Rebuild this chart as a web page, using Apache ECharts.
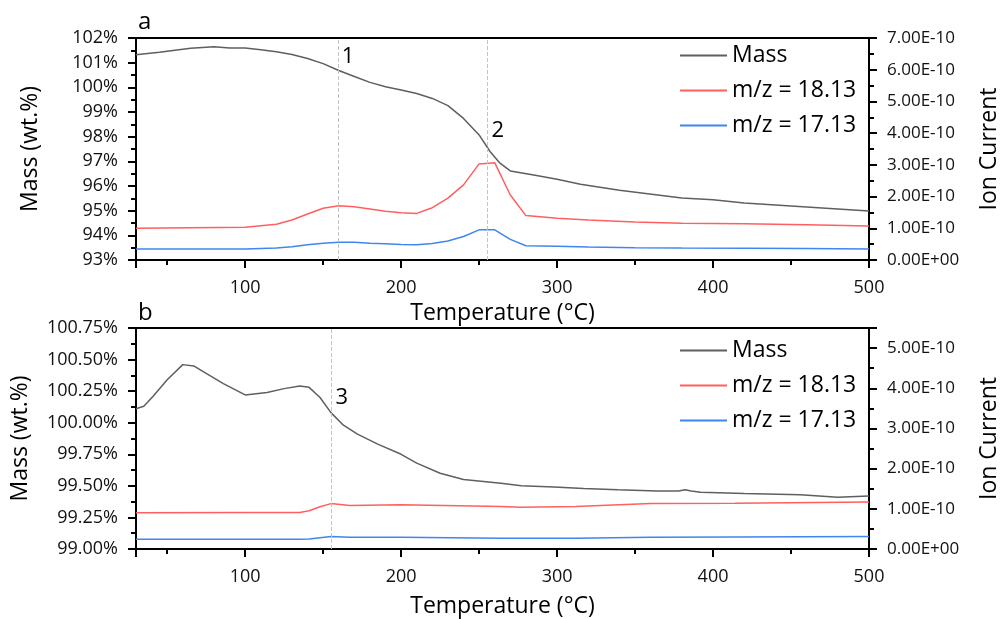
<!DOCTYPE html>
<html>
<head>
<meta charset="utf-8">
<script src="https://cdn.jsdelivr.net/npm/echarts@6/dist/echarts.min.js"></script>
<style>
  html, body { margin: 0; padding: 0; background: #fff; }
  #chart { width: 1001px; height: 619px; }
</style>
</head>
<body>
<div id="chart"></div>
<script>
// panel a
const tempMassA = [30, 45, 55, 65, 80, 90, 100, 110, 120, 130, 140, 150, 160, 170, 180, 190, 200, 210, 220, 230, 240, 250, 257, 263, 270, 285, 300, 315, 340, 380, 400, 420, 450, 480, 500]
const massA = [101.32, 101.42, 101.50, 101.58, 101.65, 101.59, 101.59, 101.52, 101.44, 101.33, 101.17, 100.96, 100.68, 100.44, 100.20, 100.02, 99.89, 99.75, 99.55, 99.26, 98.74, 98.07, 97.40, 96.95, 96.61, 96.45, 96.27, 96.07, 95.83, 95.51, 95.44, 95.31, 95.19, 95.07, 94.99]
const tempIonA = [30, 100, 120, 130, 140, 150, 160, 170, 180, 190, 200, 210, 220, 230, 240, 250, 260, 270, 280, 300, 320, 350, 380, 420, 460, 500]
// ion current in units of 1E-10
const ion18A = [1.00, 1.03, 1.13, 1.26, 1.45, 1.63, 1.71, 1.68, 1.61, 1.54, 1.49, 1.47, 1.65, 1.95, 2.37, 3.03, 3.07, 2.05, 1.40, 1.32, 1.26, 1.20, 1.16, 1.14, 1.11, 1.07]
const ion17A = [0.35, 0.35, 0.38, 0.42, 0.48, 0.53, 0.56, 0.56, 0.53, 0.51, 0.49, 0.48, 0.52, 0.60, 0.74, 0.95, 0.95, 0.65, 0.45, 0.43, 0.41, 0.39, 0.38, 0.37, 0.36, 0.35]
const eventTempsA = [160, 255]
const eventLabelsA = [['1', 166, 101.24], ['2', 262, 98.24]]

// panel b
const tempMassB = [30, 35, 41, 50, 60, 67, 75, 86, 100, 114, 125, 135, 141, 148, 155, 163, 172, 185, 200, 210, 225, 240, 264, 277, 298, 317, 339, 364, 378, 382, 386, 392, 420, 456, 480, 500]
const massB = [100.11, 100.13, 100.21, 100.34, 100.46, 100.45, 100.39, 100.31, 100.22, 100.24, 100.27, 100.29, 100.28, 100.20, 100.08, 99.98, 99.91, 99.83, 99.75, 99.68, 99.60, 99.55, 99.52, 99.50, 99.49, 99.48, 99.47, 99.46, 99.46, 99.47, 99.46, 99.45, 99.44, 99.43, 99.41, 99.42]
const tempIonB = [30, 100, 135, 141, 148, 155, 167, 200, 264, 277, 312, 360, 414, 500]
const ion18B = [0.90, 0.91, 0.91, 0.95, 1.05, 1.13, 1.08, 1.10, 1.06, 1.04, 1.06, 1.13, 1.14, 1.17]
const ion17B = [0.24, 0.24, 0.24, 0.25, 0.28, 0.31, 0.29, 0.29, 0.27, 0.27, 0.27, 0.29, 0.30, 0.31]
const eventTempsB = [155]
const eventLabelsB = [['3', 162, 100.20]]

const seriesNames = ['Mass', 'm/z = 18.13', 'm/z = 17.13']
const colors = ['#5f5f5f', '#ff5f5f', '#3f86ee']

const FONT = 'Open Sans'
const black = '#000'

function pairs(xs, ys) {
  return xs.map((x, i) => [x, ys[i]])
}

function ionLabel(v) {
  if (Math.abs(v) < 1e-9) return '0.00E+00'
  return v.toFixed(2) + 'E-10'
}

function xAxisFor(grid, gap) {
  return {
    gridIndex: grid,
    type: 'value',
    min: 30,
    max: 500,
    name: 'Temperature (°C)',
    nameLocation: 'middle',
    nameGap: gap,
    nameTextStyle: { fontFamily: FONT, fontSize: 23, color: black },
    axisLine: { lineStyle: { color: black, width: 2 } },
    axisTick: { length: 8, lineStyle: { color: black, width: 2 } },
    minorTick: { show: true, splitNumber: 2, length: 5, lineStyle: { color: black, width: 2 } },
    axisLabel: { showMinLabel: false, margin: 19, fontFamily: FONT, fontSize: 18, color: '#111' },
    splitLine: { show: false }
  }
}

function yAxisFor(grid, pos, min, max, interval, name, gap, fmt) {
  return {
    gridIndex: grid,
    type: 'value',
    position: pos,
    min: min,
    max: max,
    interval: interval,
    name: name,
    nameLocation: 'middle',
    nameGap: gap,
    nameTextStyle: { fontFamily: FONT, fontSize: 23, color: black },
    axisLine: { show: true, lineStyle: { color: black, width: 2 } },
    axisTick: { show: true, length: 8, lineStyle: { color: black, width: 2 } },
    minorTick: { show: true, splitNumber: 2, length: 5, lineStyle: { color: black, width: 2 } },
    axisLabel: { showMaxLabel: pos === 'left' || max % interval < 1e-9, margin: 18, fontFamily: FONT, fontSize: pos === 'left' ? 18 : 17, color: '#111', formatter: fmt },
    splitLine: { show: false }
  }
}

function lineSeries(name, color, xIdx, yIdx, data, extra) {
  return Object.assign({
    name: name,
    type: 'line',
    xAxisIndex: xIdx,
    yAxisIndex: yIdx,
    symbol: 'none',
    smooth: false,
    lineStyle: { color: color, width: 1.5 },
    itemStyle: { color: color },
    data: data,
    z: 3
  }, extra || {})
}

function eventMarks(temps, labels) {
  return {
    markLine: {
      silent: true,
      symbol: ['none', 'none'],
      label: { show: false },
      lineStyle: { type: 'dashed', color: '#c4c4c4', width: 1 },
      data: temps.map(t => ({ xAxis: t }))
    },
    markPoint: {
      silent: true,
      symbol: 'circle',
      symbolSize: 1,
      itemStyle: { color: 'rgba(0,0,0,0)' },
      label: { show: true, position: 'inside', fontFamily: FONT, fontSize: 22, color: black, formatter: p => p.name },
      data: labels.map(l => ({ name: l[0], coord: [l[1], l[2]] }))
    }
  }
}

function legendAt(top) {
  return {
    orient: 'vertical',
    left: 680,
    top: top,
    padding: 0,
    icon: 'rect',
    itemWidth: 47,
    itemHeight: 2,
    itemGap: 10,
    textStyle: { fontFamily: FONT, fontSize: 23, lineHeight: 25, color: black },
    data: seriesNames
  }
}

const chart = echarts.init(document.getElementById('chart'), null, { renderer: 'canvas' })

chart.setOption({
  animation: false,
  backgroundColor: '#fff',
  title: [
    { text: 'a', left: 138, top: 10, padding: 0, textStyle: { fontFamily: FONT, fontSize: 24, fontWeight: 'normal', color: black } },
    { text: 'b', left: 138, top: 301, padding: 0, textStyle: { fontFamily: FONT, fontSize: 24, fontWeight: 'normal', color: black } }
  ],
  legend: [legendAt(43), legendAt(338)],
  grid: [
    { left: 136, top: 38, width: 733, height: 222, show: true, borderColor: black, borderWidth: 2, outerBoundsMode: 'none', containLabel: false },
    { left: 136, top: 328, width: 733, height: 221, show: true, borderColor: black, borderWidth: 2, outerBoundsMode: 'none', containLabel: false }
  ],
  xAxis: [xAxisFor(0, 42), xAxisFor(1, 46)],
  yAxis: [
    yAxisFor(0, 'left', 93, 102, 1, 'Mass (wt.%)', 94, v => v.toFixed(0) + '%'),
    yAxisFor(0, 'right', 0, 7, 1, 'Ion Current', 109, ionLabel),
    yAxisFor(1, 'left', 99, 100.75, 0.25, 'Mass (wt.%)', 104, v => v.toFixed(2) + '%'),
    yAxisFor(1, 'right', 0, 5.5, 1, 'Ion Current', 109, ionLabel)
  ],
  series: [
    lineSeries(seriesNames[0], colors[0], 0, 0, pairs(tempMassA, massA), eventMarks(eventTempsA, eventLabelsA)),
    lineSeries(seriesNames[1], colors[1], 0, 1, pairs(tempIonA, ion18A)),
    lineSeries(seriesNames[2], colors[2], 0, 1, pairs(tempIonA, ion17A)),
    lineSeries(seriesNames[0], colors[0], 1, 2, pairs(tempMassB, massB), eventMarks(eventTempsB, eventLabelsB)),
    lineSeries(seriesNames[1], colors[1], 1, 3, pairs(tempIonB, ion18B)),
    lineSeries(seriesNames[2], colors[2], 1, 3, pairs(tempIonB, ion17B))
  ]
})
</script>
</body>
</html>
